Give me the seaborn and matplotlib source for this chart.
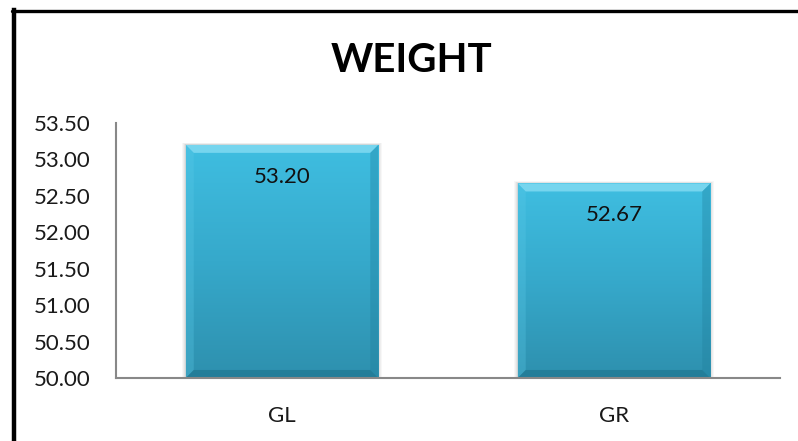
import numpy as np
import pandas as pd
import matplotlib
matplotlib.use("Agg")
import matplotlib.pyplot as plt
import seaborn as sns
from matplotlib.lines import Line2D
from matplotlib.patches import Polygon, Rectangle
from matplotlib.colors import LinearSegmentedColormap

# Data
groups = ["GL", "GR"]
weights = [53.20, 52.67]
y_ticks = [50.00, 50.50, 51.00, 51.50, 52.00, 52.50, 53.00, 53.50]
title = "WEIGHT"

sns.set_theme(style="white")
plt.rcParams["font.family"] = ["Lato", "DejaVu Sans"]

df = pd.DataFrame({"group": groups, "weight": weights})

fig = plt.figure(figsize=(7.98, 4.41), dpi=100)
ax = fig.add_axes([0.1454, 0.1429, 0.832, 0.5782])

sns.barplot(data=df, x="group", y="weight", ax=ax, color="#3AB4D8",
            width=0.58, saturation=1, linewidth=0, zorder=2)

ax.set_ylim(y_ticks[0], y_ticks[-1])
ax.set_yticks(y_ticks)
ax.set_yticklabels([f"{v:.2f}" for v in y_ticks])
ax.set_xlim(-0.5, len(groups) - 0.5)
ax.set_xlabel("")
ax.set_ylabel("")
ax.tick_params(axis="both", length=0, labelsize=16, colors="#1a1a1a")
ax.tick_params(axis="y", pad=18)
ax.tick_params(axis="x", pad=20)
for side in ["top", "right"]:
    ax.spines[side].set_visible(False)
for side in ["left", "bottom"]:
    ax.spines[side].set_color("#888888")
    ax.spines[side].set_linewidth(1.5)
ax.spines["bottom"].set_zorder(5)

# Gradient fill and bevelled edges on each bar (visible part above the axis floor)
grad = LinearSegmentedColormap.from_list("barfill", ["#2E90AE", "#36A9CB", "#3FBEE1"])
ybase = ax.get_ylim()[0]
fig.canvas.draw()
for patch in ax.patches:
    x0 = patch.get_x()
    w = patch.get_width()
    top = patch.get_y() + patch.get_height()
    patch.set_visible(False)
    clip = Rectangle((x0, ybase), w, top - ybase, transform=ax.transData)
    img = ax.imshow(np.linspace(0, 1, 256).reshape(-1, 1), cmap=grad, origin="lower",
                    extent=[x0, x0 + w, ybase, top], aspect="auto", zorder=3)
    img.set_clip_path(clip)

    (px0, py0), (px1, py1) = ax.transData.transform([(x0, ybase), (x0 + w, top)])
    b = 8
    # soft shadow
    for k, a in [(4, 0.05), (3, 0.06), (2, 0.08), (1, 0.10)]:
        ax.add_patch(Polygon([(px0 - k, py0), (px1 + k, py0), (px1 + k, py1 + k * 0.5),
                              (px0 - k, py1 + k * 0.5)], closed=True, transform=None,
                             facecolor="#666666", alpha=a, edgecolor="none", zorder=1))
    bevels = [
        ([(px0, py1), (px1, py1), (px1 - b, py1 - b), (px0 + b, py1 - b)], "#8FE0F5", 0.7),
        ([(px0, py0), (px0, py1), (px0 + b, py1 - b), (px0 + b, py0 + b)], "#5CCAE8", 0.3),
        ([(px1, py0), (px1, py1), (px1 - b, py1 - b), (px1 - b, py0 + b)], "#1F7F9C", 0.35),
        ([(px0, py0), (px1, py0), (px1 - b, py0 + b), (px0 + b, py0 + b)], "#1B6F88", 0.55),
    ]
    for pts, col, a in bevels:
        ax.add_patch(Polygon(pts, closed=True, transform=None, facecolor=col,
                             alpha=a, edgecolor="none", zorder=4))

# Value labels inside the bars
for i, v in enumerate(weights):
    ax.annotate(f"{v:.2f}", xy=(i, v), xytext=(0, -32), textcoords="offset pixels",
                ha="center", va="center", fontsize=16, color="#111111", zorder=6)

fig.text(0.516, 0.862, title, ha="center", va="center", fontsize=29,
         fontweight="bold", color="black")

# Outer frame lines
fig.add_artist(Line2D([13.5 / 798, 13.5 / 798], [0, 1 - 10 / 441], transform=fig.transFigure,
                      color="black", linewidth=3.2, solid_capstyle="projecting"))
fig.add_artist(Line2D([12 / 798, 1], [1 - 11 / 441, 1 - 11 / 441], transform=fig.transFigure,
                      color="black", linewidth=2.4))

fig.savefig("out.png", dpi=100, facecolor="white")
